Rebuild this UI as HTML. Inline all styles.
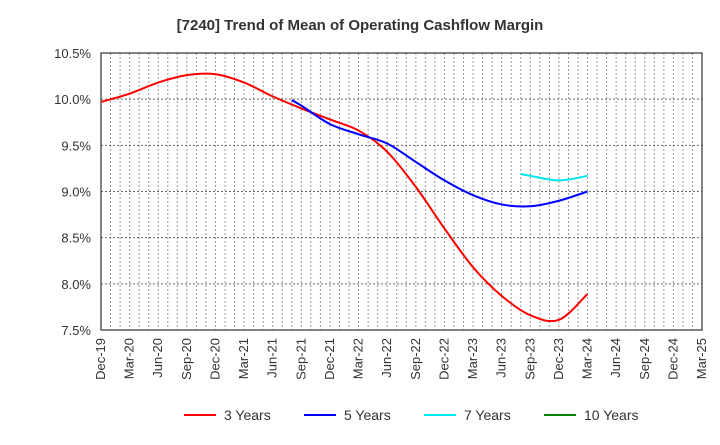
<!DOCTYPE html>
<html><head><meta charset="utf-8"><style>
body{margin:0;background:#fff;font-family:"Liberation Sans",sans-serif}
</style></head><body>
<svg id="c" width="720" height="440" xmlns="http://www.w3.org/2000/svg" font-family="Liberation Sans, sans-serif">
<text x="360" y="30" text-anchor="middle" font-size="15" font-weight="bold" fill="#333">[7240]  Trend of Mean of Operating Cashflow Margin</text>
<g id="grid"></g><g id="axes"></g><g id="series"></g><g id="legend"></g>
</svg>
<script>
const xLabels=["Dec-19","Mar-20","Jun-20","Sep-20","Dec-20","Mar-21","Jun-21","Sep-21","Dec-21","Mar-22","Jun-22","Sep-22","Dec-22","Mar-23","Jun-23","Sep-23","Dec-23","Mar-24","Jun-24","Sep-24","Dec-24","Mar-25"];
const yTicks=[7.5,8.0,8.5,9.0,9.5,10.0,10.5];
// month index from Dec-19
const m3=[0,3,6,9,12,15,18,21,24,27,30,33,36,39,42,45,48,51];
const v3=[9.97,10.06,10.18,10.26,10.27,10.18,10.03,9.90,9.78,9.66,9.43,9.05,8.60,8.18,7.87,7.66,7.61,7.89];
const m5=[20,21,24,27,30,33,36,39,42,45,48,51];
const v5=[9.99,9.93,9.73,9.62,9.52,9.32,9.12,8.96,8.86,8.84,8.90,9.00];
const m7=[44,45,48,51];
const v7=[9.19,9.17,9.12,9.17];
const m10=[];const v10=[];
const L=101,R=702,T=53,B=330,NM=63,ymin=7.5,ymax=10.5;
const X=m=>L+m*(R-L)/NM, Y=v=>B-(v-ymin)/(ymax-ymin)*(B-T);
const NS="http://www.w3.org/2000/svg";
function mk(p,t,a){const e=document.createElementNS(NS,t);for(const k in a)e.setAttribute(k,a[k]);p.appendChild(e);return e;}
const g=document.getElementById('grid'),ax=document.getElementById('axes'),s=document.getElementById('series'),lg=document.getElementById('legend');
for(let m=1;m<NM;m++){const l=mk(g,'line',{x1:X(m),x2:X(m),y1:T,y2:B,stroke:'#999','stroke-dasharray':'2,2','stroke-width':1});

}
yTicks.forEach(v=>{if(v>ymin&&v<ymax){const l=mk(g,'line',{x1:L,x2:R,y1:Y(v),y2:Y(v),stroke:'#666','stroke-dasharray':'2,2'});

}
const t=mk(ax,'text',{x:L-10,y:Y(v)+5,'text-anchor':'end','font-size':13,fill:'#333'});t.textContent=v.toFixed(1)+'%';

});
const fr=mk(ax,'rect',{x:L,y:T,width:R-L,height:B-T,fill:'none',stroke:'#333','stroke-width':1.2});


xLabels.forEach((lab,i)=>{const x=X(i*3);const t=mk(ax,'text',{transform:`translate(${x+4},${B+8}) rotate(-90)`,'text-anchor':'end','font-size':13,fill:'#333'});t.textContent=lab;

});
function path(ms,vs){const p=ms.map((m,i)=>[X(m),Y(vs[i])]);if(!p.length)return'';let d=`M${p[0][0]},${p[0][1]}`;
for(let i=0;i<p.length-1;i++){const p0=p[i-1]||p[i],p1=p[i],p2=p[i+1],p3=p[i+2]||p2;
d+=` C${p1[0]+(p2[0]-p0[0])/6},${p1[1]+(p2[1]-p0[1])/6} ${p2[0]-(p3[0]-p1[0])/6},${p2[1]-(p3[1]-p1[1])/6} ${p2[0]},${p2[1]}`;}return d;}
[[m3,v3,'#ff0000','series-3-years'],[m5,v5,'#0000ff','series-5-years'],[m7,v7,'#00e5ee','series-7-years'],[m10,v10,'#008000','series-10-years']].forEach(([m,v,c,n])=>{
if(!m.length)return;const e=mk(s,'path',{d:path(m,v),fill:'none',stroke:c,'stroke-width':2});

});
[['3 Years','#ff0000',184],['5 Years','#0000ff',304],['7 Years','#00e5ee',424],['10 Years','#008000',544]].forEach(([t,c,x])=>{
const gg=mk(lg,'g',{});


mk(gg,'line',{x1:x,x2:x+32,y1:415,y2:415,stroke:c,'stroke-width':2});
const tx=mk(gg,'text',{x:x+40,y:420,'font-size':14,fill:'#333'});tx.textContent=t;});
</script>
</body></html>
